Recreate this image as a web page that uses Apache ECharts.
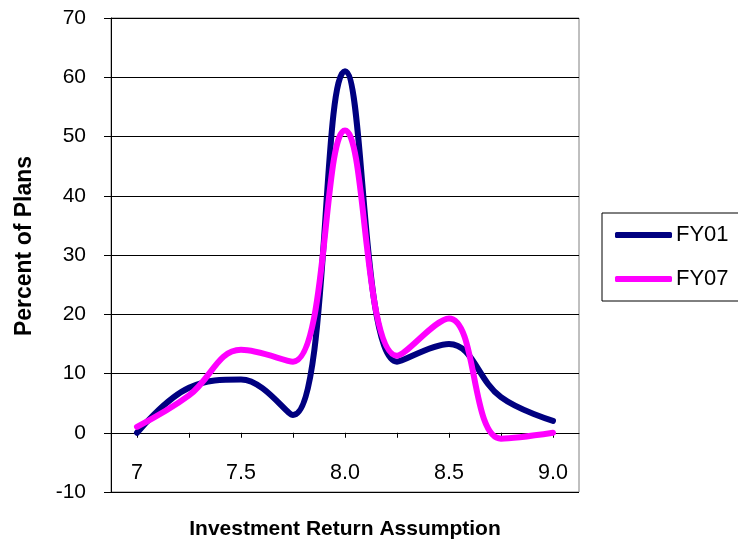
<!DOCTYPE html>
<html>
<head>
<meta charset="utf-8">
<script src="https://cdn.jsdelivr.net/npm/echarts@6/dist/echarts.min.js"></script>
<style>
  html, body { margin: 0; padding: 0; background: #fff; }
  #plans-line { width: 738px; height: 544px; }
</style>
</head>
<body>
<div id="plans-line"></div>
<script>
// investment return assumptions (every other one gets a label)
const rateList = ['7', '7.25', '7.5', '7.75', '8.0', '8.25', '8.5', '8.75', '9.0']
const fy01List = [0, 7.6, 9, 3, 61, 12, 15, 6, 2]
const fy07List = [1, 6.3, 14, 12, 51, 13, 19.3, -1, 0]
const yTicks = { min: -10, max: 70, step: 10 }

const lineChart = echarts.init(document.getElementById('plans-line'))
const font = 'Liberation Sans, Arial, sans-serif'

const option = {
  animation: false,
  textStyle: { fontFamily: font },
  grid: {
    left: 111,
    right: 159,
    top: 18,
    bottom: 52,
    outerBoundsMode: 'none',
    containLabel: false,
    show: true,
    borderColor: '#808080',
    borderWidth: 1
  },
  legend: {
    left: 602,
    top: 213,
    orient: 'vertical',
    icon: 'roundRect',
    itemWidth: 57,
    itemHeight: 6,
    itemGap: 22,
    padding: [11, 80, 11, 13],
    borderColor: '#000',
    borderWidth: 1,
    textStyle: {
      fontFamily: font,
      fontSize: 22,
      color: '#000',
      lineHeight: 20,
      padding: [0, 0, 0, -1]
    },
    data: ['FY01', 'FY07']
  },
  xAxis: {
    type: 'category',
    data: rateList,
    boundaryGap: true,
    name: 'Investment Return Assumption',
    nameLocation: 'middle',
    nameGap: 27,
    nameTextStyle: { fontFamily: font, fontSize: 21, fontWeight: 'bold', color: '#000' },
    axisLine: { onZero: true, lineStyle: { color: '#000', width: 1 } },
    axisTick: { show: true, alignWithLabel: true, interval: 0, length: 5, lineStyle: { color: '#000' } },
    axisLabel: {
      interval: 1,
      margin: -30,
      fontFamily: font,
      fontSize: 21.5,
      color: '#000'
    },
    splitLine: { show: false }
  },
  yAxis: {
    type: 'value',
    min: yTicks.min,
    max: yTicks.max,
    interval: yTicks.step,
    name: 'Percent of Plans',
    nameLocation: 'middle',
    nameGap: 75,
    nameTextStyle: {
      fontFamily: font,
      fontSize: 23,
      fontWeight: 'bold',
      color: '#000',
      padding: [0, 0, 0, 18]
    },
    axisLine: { show: true, lineStyle: { color: '#000', width: 1 } },
    axisTick: { show: true, length: 7, lineStyle: { color: '#000' } },
    axisLabel: { margin: 25, fontFamily: font, fontSize: 21, color: '#000' },
    splitLine: { show: true, lineStyle: { color: '#000', width: 1 } }
  },
  series: [
    {
      name: 'FY01',
      type: 'line',
      data: fy01List,
      smooth: 0.4,
      symbol: 'none',
      color: '#000080',
      lineStyle: { width: 6, color: '#000080', cap: 'round', join: 'round' }
    },
    {
      name: 'FY07',
      type: 'line',
      data: fy07List,
      smooth: 0.4,
      symbol: 'none',
      color: '#FF00FF',
      lineStyle: { width: 6, color: '#FF00FF', cap: 'round', join: 'round' }
    }
  ]
}

lineChart.setOption(option)
</script>
</body>
</html>
